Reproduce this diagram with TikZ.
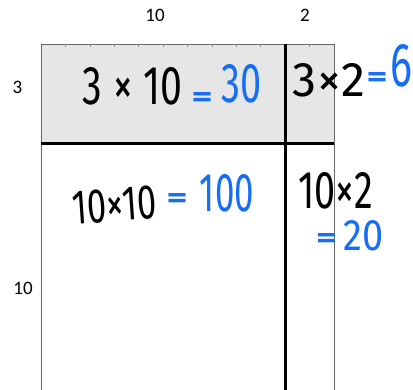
\documentclass[tikz,border=0pt]{standalone}
\usepackage{fontspec}
\usepackage{graphicx}
\setmainfont{Carlito}
\newfontfamily\hand{Fira Sans}
\newcommand\inkbox[3]{\resizebox{#1pt}{#2pt}{\hand #3}}
\newcommand\inkeqsign{\resizebox{21pt}{14pt}{\hand\bfseries =}}
\definecolor{penblue}{RGB}{22,110,245}
\definecolor{cellgray}{RGB}{230,230,230}
\tikzset{
  axislabel/.style={font=\fontsize{19}{19}\selectfont, inner sep=0pt},
  inkblack/.style={inner sep=0pt, text=black},
  inkblue/.style={inner sep=0pt, text=penblue},
  thin border/.style={draw=black!60, line width=0.8pt},
  thick rule/.style={draw=black, line width=3pt}
}
\begin{document}
\begin{tikzpicture}[x=1pt,y=-1pt]
\useasboundingbox (0,0) rectangle (413,390);
\fill[white] (0,0) rectangle (413,390);
% gray top strip
\fill[cellgray] (41,44) rectangle (334,144);
% outer border
\draw[thin border] (41,390) -- (41,44) -- (334,44) -- (334,390);
% ticks
\foreach \x in {65.4,89.8,114.2,138.6,163,187.4,211.8,236.2,260.6,309.5}
  \draw[black!45, line width=0.5pt] (\x,44) -- (\x,47);
% thick rules
\coordinate (hl) at (41,144);
\coordinate (hr) at (334,144);
\coordinate (vt) at (285,44);
\coordinate (vb) at (285,390);
\draw[thick rule] (hl) -- (hr);
\draw[thick rule] (vt) -- (vb);
% axis labels
\node[axislabel] (l10) at (155,15) {10};
\node[axislabel] (l2) at (305,15) {2};
\node[axislabel] (l3) at (17.5,87) {3};
\node[axislabel] (l10b) at (23,288) {10};
% handwritten: top-left cell
\node[inkblack] (a1) at (132.5,86.5) {\inkbox{99}{37}{3 × 10}};
\node[inkblue] (a2e) at (202,99.5) {\inkeqsign};
\node[inkblue] (a2) at (242,84) {\inkbox{40}{38}{30}};
% top-right cell
\node[inkblack] (b1) at (329,80) {\inkbox{72}{33}{3×2}};
\node[inkblue] (b2e) at (377,80) {\inkeqsign};
\node[inkblue] (b2) at (402,65.5) {\inkbox{22}{42}{6}};
% bottom-left cell
\node[inkblack, rotate=4] (c1) at (114.5,205) {\inkbox{85}{33}{10×10}};
\node[inkblue] (c2e) at (177,201) {\inkeqsign};
\node[inkblue] (c2) at (227,193.5) {\inkbox{54}{37}{100}};
% bottom-right cell
\node[inkblack] (d1) at (335.5,191) {\inkbox{75}{36}{10×2}};
\node[inkblue] (d2e) at (326.5,240.5) {\inkeqsign};
\node[inkblue] (d2) at (364,236) {\inkbox{40}{30}{20}};
\end{tikzpicture}
\end{document}
